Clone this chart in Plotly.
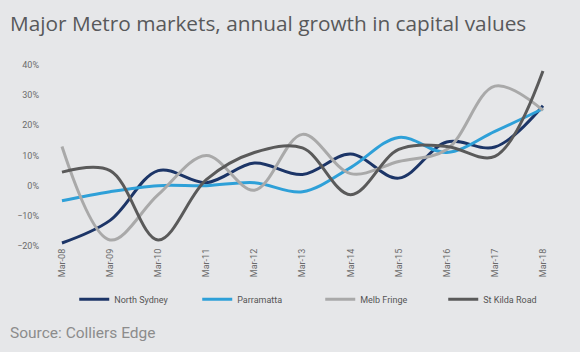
import plotly.graph_objects as go

categories = ["Mar-08", "Mar-09", "Mar-10", "Mar-11", "Mar-12", "Mar-13",
              "Mar-14", "Mar-15", "Mar-16", "Mar-17", "Mar-18"]
north_sydney = [-0.19, -0.115, 0.05, 0.01, 0.075, 0.037, 0.105, 0.025, 0.145, 0.128, 0.265]
parramatta = [-0.05, -0.02, 0.0, 0.0, 0.01, -0.02, 0.06, 0.16, 0.11, 0.18, 0.255]
melb_fringe = [0.13, -0.18, -0.03, 0.10, -0.015, 0.17, 0.04, 0.08, 0.12, 0.33, 0.25]
st_kilda = [0.045, 0.05, -0.18, 0.02, 0.11, 0.125, -0.03, 0.12, 0.13, 0.097, 0.38]
y_ticks = [-0.2, -0.1, 0.0, 0.1, 0.2, 0.3, 0.4]

series = [
    ("North Sydney", north_sydney, "#1c3567"),
    ("Parramatta", parramatta, "#2ea0d8"),
    ("Melb Fringe", melb_fringe, "#a9a9a9"),
    ("St Kilda Road", st_kilda, "#5a5a5a"),
]

fig = go.Figure()
for name, vals, col in series:
    fig.add_trace(go.Scatter(
        x=list(range(len(categories))), y=vals, name=name, mode="lines",
        line=dict(color=col, width=3, shape="spline", smoothing=1.0),
    ))

bg = "#e6e7e9"
fig.update_layout(
    width=580, height=352,
    paper_bgcolor=bg, plot_bgcolor=bg,
    margin=dict(l=40, r=20, t=65, b=106),
    font=dict(family="Roboto", color="#6b6b6b"),
    showlegend=True,
    legend=dict(orientation="h", xref="container", x=0.128, xanchor="left",
                yref="container", y=0.15, yanchor="middle",
                font=dict(size=9, color="#555"), entrywidth=78, entrywidthmode="pixels",
                bgcolor="rgba(0,0,0,0)", itemwidth=30),
    xaxis=dict(
        range=[-0.457, 10.354], tickmode="array", tickvals=list(range(len(categories))),
        ticktext=categories, tickangle=-90, tickfont=dict(size=9, color="#6b6b6b"),
        showgrid=False, zeroline=False, showline=False, ticks="",
    ),
    yaxis=dict(
        range=[-0.2, 0.4], tickmode="array", tickvals=y_ticks, tickformat=".0%",
        tickfont=dict(size=9, color="#6b6b6b"), showgrid=False, zeroline=False,
        showline=False, ticks="",
    ),
    annotations=[
        dict(text="Major Metro markets, annual growth in capital values", xref="paper", yref="paper",
             x=-0.062, y=1.0, xanchor="left", yanchor="bottom", yshift=26, showarrow=False,
             font=dict(size=20.8, color="#58595b", family="Open Sans")),
        dict(text="Source: Colliers Edge", xref="paper", yref="paper",
             x=-0.062, y=0, xanchor="left", yanchor="middle", yshift=-87, showarrow=False,
             font=dict(size=15.5, color="#8c8c8c", family="Roboto")),
    ],
)
fig.update_xaxes(automargin=False)
fig.update_yaxes(automargin=False)

fig.write_html("out.html")
